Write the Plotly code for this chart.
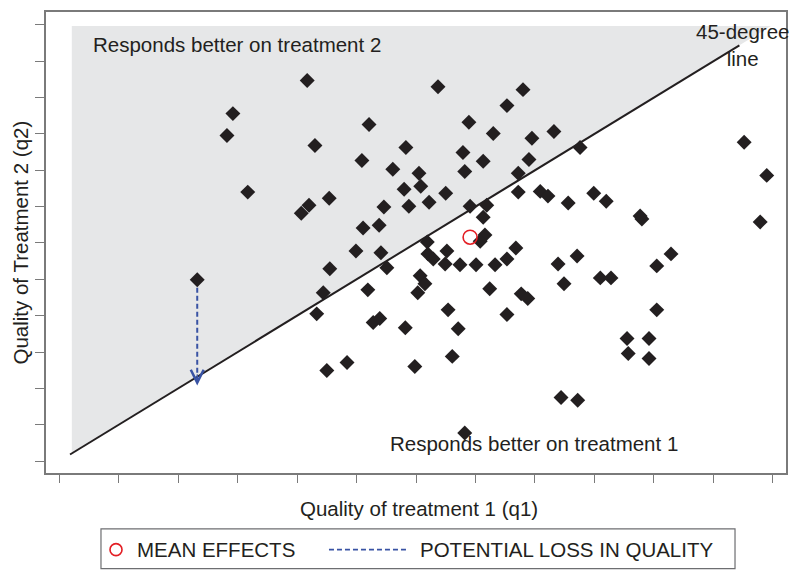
import plotly.graph_objects as go

# ---- data ----
q1 = [4.17, 2.92, 2.82, 5.21, 4.30, 5.09, 5.61, 3.17, 4.54, 4.20, 4.07, 5.46, 5.11, 5.38,
      4.99, 5.41, 4.55, 5.51, 4.44, 5.19, 4.33, 5.28, 5.39, 4.50, 4.84, 2.32,
      6.37, 7.80, 7.53, 6.89, 7.30, 8.32, 7.95, 5.83, 6.79, 7.13, 7.90, 8.76, 6.05, 6.82,
      7.72, 5.80, 6.08, 6.50, 7.72, 8.09, 8.22, 8.56, 8.99, 9.20, 9.80, 9.77, 11.52, 11.90,
      11.79, 5.88, 6.22, 6.91, 7.19, 7.13, 7.16, 7.08, 6.19, 6.52, 7.68, 8.71, 10.29,
      6.20, 6.29, 6.49, 6.74, 7.01, 7.33, 7.53, 8.39, 10.05, 6.07, 6.15, 6.03, 7.24, 8.49,
      9.10, 9.28, 7.77, 7.88, 6.54, 7.53, 10.05, 5.82, 6.71, 9.55, 9.92, 9.57, 9.92, 5.98,
      6.61, 8.44, 8.72, 6.82]
q2 = [10.47, 9.56, 8.96, 9.26, 8.68, 8.27, 8.03, 7.40, 7.23, 7.04, 6.82, 6.99, 6.41, 6.49,
      5.78, 5.73, 5.29, 5.32, 4.63, 4.71, 4.05, 3.81, 3.92, 2.49, 2.71, 4.99,
      10.30, 10.22, 9.78, 9.32, 9.01, 9.07, 8.88, 8.63, 8.49, 8.25, 8.30, 8.63, 7.92, 7.97,
      7.92, 7.48, 7.56, 7.37, 7.40, 7.42, 7.29, 7.10, 7.37, 7.15, 6.66, 6.74, 8.77, 7.86,
      6.58, 7.01, 7.12, 7.01, 7.04, 6.71, 6.22, 6.05, 6.03, 5.78, 5.86, 5.64, 5.70,
      5.70, 5.56, 5.42, 5.40, 5.40, 5.40, 5.56, 5.42, 5.37, 5.10, 4.88, 4.63, 4.74, 4.88,
      5.04, 5.04, 4.60, 4.47, 4.16, 4.03, 4.16, 3.67, 3.64, 3.37, 3.37, 2.96, 2.82, 2.60,
      2.88, 1.75, 1.67, 0.77]

mean_q1, mean_q2 = 6.91, 6.16
loss_q1, loss_q2_from, loss_q2_to = 2.32, 4.99, 2.08     # potential loss arrow
diag_start, diag_end = 0.18, 11.44                       # 45-degree line extent
shade_left, shade_top = 0.21, 11.97                      # shaded "treatment 2" region
tick_vals = list(range(13))

TXT = "#231f20"
FONT = "Liberation Sans, Arial, sans-serif"
BLUE = "#3953a4"
RED = "#e31e24"
AX = "#7a7a7a"
FS = 20.5

fig = go.Figure()

# shaded region above the 45-degree line
fig.add_trace(go.Scatter(
    x=[shade_left, shade_left, shade_top, shade_left],
    y=[shade_left, shade_top, shade_top, shade_left],
    mode="lines", fill="toself", fillcolor="#e6e7e8",
    line=dict(width=0), hoverinfo="skip", showlegend=False))

# 45-degree line
fig.add_trace(go.Scatter(x=[diag_start, diag_end], y=[diag_start, diag_end], mode="lines",
                         line=dict(color=TXT, width=2), showlegend=False))

# dashed potential loss
fig.add_trace(go.Scatter(x=[loss_q1, loss_q1], y=[loss_q2_from, loss_q2_to + 0.05], mode="lines",
                         line=dict(color=BLUE, width=2, dash="5px,3px"), showlegend=False))

# patients
fig.add_trace(go.Scatter(x=q1, y=q2, mode="markers",
                         marker=dict(symbol="diamond", size=11.5, color=TXT, line=dict(width=0)),
                         showlegend=False))

# mean effects
fig.add_trace(go.Scatter(x=[mean_q1], y=[mean_q2], mode="markers",
                         marker=dict(symbol="circle-open", size=14, color=RED, line=dict(width=1.6, color=RED)),
                         showlegend=False))

ann = []
# arrowhead
ann.append(dict(x=loss_q1, y=loss_q2_to, ax=loss_q1, ay=loss_q2_to + 0.35, xref="x", yref="y",
                axref="x", ayref="y", showarrow=True, arrowhead=5, arrowsize=2.3, arrowwidth=1.1,
                arrowcolor=BLUE, text="", font=dict(size=1)))
# region labels
ann.append(dict(x=0.533, y=11.45, xref="x", yref="y", text="Responds better on treatment 2",
                showarrow=False, xanchor="left", yanchor="middle", font=dict(size=FS, color=TXT, family=FONT)))
ann.append(dict(x=5.53, y=0.49, xref="x", yref="y", text="Responds better on treatment 1",
                showarrow=False, xanchor="left", yanchor="middle", font=dict(size=FS, color=TXT, family=FONT)))
ann.append(dict(x=11.50, y=11.46, xref="x", yref="y", text="45-degree<br>line", align="center",
                showarrow=False, xanchor="center", yanchor="middle", font=dict(size=FS, color=TXT, family=FONT)))
# axis titles
ann.append(dict(x=0.5034, y=-0.078, xref="paper", yref="paper", text="Quality of treatment 1 (q1)",
                showarrow=False, xanchor="center", yanchor="middle", font=dict(size=FS, color=TXT, family=FONT)))
ann.append(dict(x=-0.0351, y=0.5, xref="paper", yref="paper", text="Quality of Treatment 2 (q2)",
                textangle=-90, showarrow=False, xanchor="center", yanchor="middle",
                font=dict(size=FS, color=TXT, family=FONT)))
# legend texts
ann.append(dict(x=0.1200, y=-0.1663, xref="paper", yref="paper", text="MEAN EFFECTS",
                showarrow=False, xanchor="left", yanchor="middle", font=dict(size=FS, color=TXT, family=FONT)))
ann.append(dict(x=0.5030, y=-0.1663, xref="paper", yref="paper", text="POTENTIAL LOSS IN QUALITY",
                showarrow=False, xanchor="left", yanchor="middle", font=dict(size=FS, color=TXT, family=FONT)))

shapes = [
    # legend box
    dict(type="rect", xref="paper", yref="paper", x0=0.0743, x1=0.9311, y0=-0.2074, y1=-0.1210,
         line=dict(color="#6d6e71", width=1.2), fillcolor="white", layer="above"),
    # legend circle
    dict(type="circle", xref="paper", yref="paper", xsizemode="pixel", ysizemode="pixel",
         xanchor=0.0946, yanchor=-0.1663, x0=-6, x1=6, y0=-6, y1=6,
         line=dict(color=RED, width=1.6), layer="above"),
    # legend dashed line
    dict(type="line", xref="paper", yref="paper", x0=0.3824, x1=0.4878, y0=-0.1663, y1=-0.1663,
         line=dict(color=BLUE, width=1.8, dash="5px,3px"), layer="above"),
]

# The page body has an 8px default margin, so the figure is sized 8px smaller
# and its margins shifted so that the plot lands where it is in the reference.
fig.update_layout(
    width=792, height=571,
    margin=dict(l=38, r=14, t=2, b=106),
    paper_bgcolor="white", plot_bgcolor="white",
    showlegend=False,
    annotations=ann, shapes=shapes,
    font=dict(family=FONT, color=TXT),
    xaxis=dict(range=[-0.224, 12.224], tickvals=tick_vals, showticklabels=False, ticks="outside",
               ticklen=8, tickwidth=1.3, tickcolor=AX, showgrid=False, zeroline=False,
               showline=True, linecolor=AX, linewidth=1.5, mirror=True),
    yaxis=dict(range=[-0.329, 12.356], tickvals=tick_vals, showticklabels=False, ticks="outside",
               ticklen=9, tickwidth=1.3, tickcolor=AX, showgrid=False, zeroline=False,
               showline=True, linecolor=AX, linewidth=1.5, mirror=True),
)

fig.write_html("out.html")
